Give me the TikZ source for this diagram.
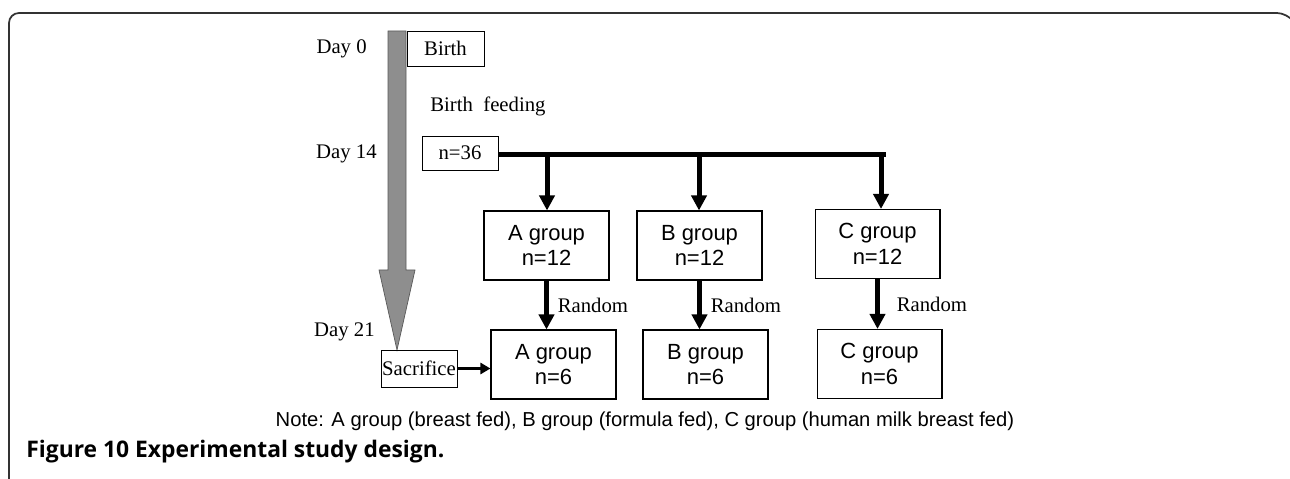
\documentclass[tikz,border=0pt]{standalone}
\usepackage{fontspec}
\setmainfont{Liberation Serif}
\setsansfont{Liberation Sans}
\newfontfamily\capfont{Open Sans}
\usepackage{tikz}
\usetikzlibrary{arrows.meta, positioning}

\definecolor{timeline}{HTML}{8E8E8E}

\begin{document}
\begin{tikzpicture}[x=0.02cm, y=-0.02cm,
    daytext/.style={font=\fontsize{11.8}{14}\selectfont, inner sep=0pt},
    daybox/.style={draw, line width=0.5pt, inner sep=0pt, font=\fontsize{11.8}{14}\selectfont},
    grpbox/.style={draw, line width=0.6pt, minimum width=2.5cm, minimum height=1.38cm, align=center, inner sep=0pt, font=\sffamily\fontsize{12.5}{14.5}\selectfont},
    flow/.style={line width=0.1cm, -{Triangle[width=0.3cm, length=0.3cm]}},
    rlabel/.style={font=\fontsize{11.8}{14}\selectfont, inner sep=1pt}]
    \useasboundingbox (0,0) rectangle (1290,479);

    % Outer frame
    \draw[line width=0.035cm, black!80, rounded corners=0.2cm] (9,482) -- (9,13) -- (1287,13) -- (1290,17);

    % Time line
    \draw[fill=timeline, draw=black!65, line width=0.4pt]
        (388,31) -- (406,31) -- (406,270) -- (415,270) -- (397,350) -- (379,270) -- (388,270) -- cycle;
    \node[daytext, anchor=east] (day0) at (367,49) {Day 0};
    \node[daytext, anchor=east] (day14) at (377,154) {Day 14};
    \node[daytext, anchor=east] (day21) at (375,332) {Day 21};

    % Boxes on the time line
    \node[daybox, minimum width=1.54cm, minimum height=0.7cm] (birth) at (445.5,48.5) {Birth};
    \node[daytext, anchor=west] (feeding) at (430,106) {Birth~~feeding};
    \node[daybox, minimum width=1.52cm, minimum height=0.68cm] (n36) at (460,153) {n=36};
    \node[daybox, minimum width=1.52cm, minimum height=0.74cm] (sac) at (419,368.5) {Sacrifice};

    % Groups
    \node[grpbox] (A1) at (546.5,245.5) {A group\\n=12};
    \node[grpbox] (B1) at (699.5,245.5) {B group\\n=12};
    \node[grpbox] (C1) at (877.5,244) {C group\\n=12};
    \node[grpbox] (A2) at (553.5,364.5) {A group\\n=6};
    \node[grpbox] (B2) at (705.5,364.5) {B group\\n=6};
    \node[grpbox] (C2) at (879.5,364) {C group\\n=6};

    % Split into groups
    \coordinate (ja) at (547,155);
    \coordinate (jb) at (699,155);
    \coordinate (jc) at (881,155);
    \coordinate (barend) at (886,155);
    \draw[line width=0.1cm] (n36.east |- ja) -- (barend);
    \draw[flow] (ja) -- (ja |- A1.north);
    \draw[flow] (jb) -- (jb |- B1.north);
    \draw[flow] (jc) -- (jc |- C1.north);

    % Randomisation
    \draw[flow] (A1.south) -- (A1.south |- A2.north) node[rlabel, midway, right=4pt] (ra) {Random};
    \draw[flow] (B1.south) -- (B1.south |- B2.north) node[rlabel, midway, right=4pt] (rb) {Random};
    \draw[flow] (C1.south) -- (C1.south |- C2.north) node[rlabel, midway, right=0.3cm] (rc) {Random};
    \draw[line width=0.06cm, -{Triangle[width=0.22cm, length=0.2cm]}] (sac.east) -- (sac.east -| A2.west);

    % Note and caption
    \node[font=\sffamily\fontsize{11.5}{13}\selectfont] (note) at (645,421)
        {Note: A group (breast fed), B group (formula fed), C group (human milk breast fed)};
    \node[font=\capfont\bfseries\fontsize{13}{15}\selectfont, anchor=west, inner sep=0pt] (caption) at (26,452)
        {Figure 10 Experimental study design.};
\end{tikzpicture}
\end{document}
